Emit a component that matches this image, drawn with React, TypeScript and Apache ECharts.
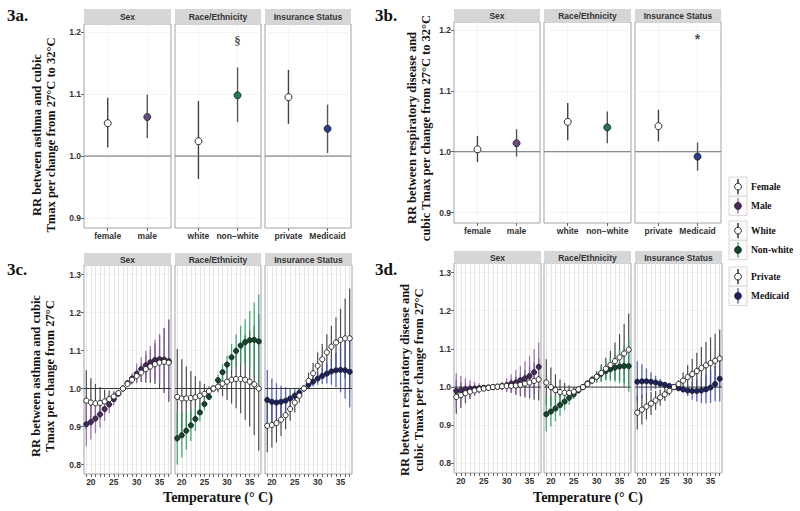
import React, { useEffect, useRef } from "react";
import * as echarts from "echarts";

// ---------- categories / ticks ----------
const TEMPS = [19, 20, 21, 22, 23, 24, 25, 26, 27, 28, 29, 30, 31, 32, 33, 34, 35, 36, 37];
const TEMP_LABELS = [20, 25, 30, 35];
const TOP_POS = [1, 2];
const Y_TICKS_TOP = [0.9, 1.0, 1.1, 1.2];
const Y_TICKS_BOTTOM = [0.8, 0.9, 1.0, 1.1, 1.2, 1.3];
const FACETS = ["Sex", "Race/Ethnicity", "Insurance Status"];
const SEX_CATS = ["female", "male"];
const RACE_CATS = ["white", "non\u2212white"];
const INS_CATS = ["private", "Medicaid"];
const LEGEND_LABELS = [["Female", "Male"], ["White", "Non-white"], ["Private", "Medicaid"]];
const FIG_LABELS = ["3a.", "3b.", "3c.", "3d."];
const Y_TITLES = [
  "RR between asthma and cubic\nTmax per change from 27\u00B0C to 32\u00B0C",
  "RR between respiratory disease and\ncubic Tmax per change from 27\u00B0C to 32\u00B0C",
  "RR between asthma and cubic\nTmax per change from 27\u00B0C",
  "RR between respiratory disease and\ncubic Tmax per change from 27\u00B0C",
];
const X_TITLE = "Temperature (\u00B0 C)";

// ---------- 3a (asthma, 27->32) ----------
const aSexEst = [1.053, 1.063];
const aSexLo = [1.014, 1.029];
const aSexHi = [1.094, 1.099];
const aRaceEst = [1.024, 1.098];
const aRaceLo = [0.963, 1.055];
const aRaceHi = [1.089, 1.143];
const aInsEst = [1.095, 1.044];
const aInsLo = [1.052, 1.005];
const aInsHi = [1.139, 1.083];
const aMark = { panel: 1, x: 2, y: 1.187, text: "\u00A7" };

// ---------- 3b (respiratory, 27->32) ----------
const bSexEst = [1.004, 1.014];
const bSexLo = [0.983, 0.992];
const bSexHi = [1.026, 1.037];
const bRaceEst = [1.049, 1.04];
const bRaceLo = [1.019, 1.014];
const bRaceHi = [1.08, 1.066];
const bInsEst = [1.042, 0.992];
const bInsLo = [1.017, 0.969];
const bInsHi = [1.069, 1.015];
const bMark = { panel: 2, x: 2, y: 1.185, text: "*" };

// ---------- 3c (asthma, by temperature) ----------
const cFemEst = [0.968, 0.963, 0.961, 0.962, 0.966, 0.972, 0.979, 0.988, 1.0, 1.012, 1.023, 1.033, 1.042, 1.051, 1.058, 1.064, 1.068, 1.07, 1.068];
const cFemLo = [0.893, 0.902, 0.912, 0.921, 0.935, 0.95, 0.965, 0.981, 1.0, 1.006, 1.011, 1.016, 1.017, 1.015, 1.015, 1.012, 1.001, 0.988, 0.965];
const cFemHi = [1.048, 1.027, 1.012, 1.004, 0.997, 0.995, 0.993, 0.995, 1.0, 1.018, 1.035, 1.051, 1.068, 1.088, 1.103, 1.119, 1.139, 1.159, 1.18];
const cMaleEst = [0.906, 0.912, 0.921, 0.932, 0.946, 0.958, 0.972, 0.986, 1.0, 1.014, 1.026, 1.039, 1.051, 1.061, 1.069, 1.075, 1.077, 1.076, 1.072];
const cMaleLo = [0.848, 0.866, 0.882, 0.897, 0.915, 0.935, 0.955, 0.978, 1.0, 1.008, 1.012, 1.014, 1.02, 1.025, 1.028, 1.024, 1.013, 0.993, 0.967];
const cMaleHi = [0.967, 0.96, 0.962, 0.968, 0.978, 0.982, 0.99, 0.994, 1.0, 1.02, 1.04, 1.066, 1.082, 1.099, 1.112, 1.128, 1.143, 1.16, 1.182];
const cWhiteEst = [0.978, 0.974, 0.974, 0.975, 0.977, 0.981, 0.986, 0.993, 1.0, 1.005, 1.013, 1.018, 1.023, 1.025, 1.025, 1.023, 1.018, 1.011, 1.0];
const cWhiteLo = [0.858, 0.874, 0.892, 0.906, 0.924, 0.943, 0.961, 0.981, 1.0, 0.99, 0.98, 0.97, 0.96, 0.948, 0.935, 0.918, 0.9, 0.877, 0.836];
const cWhiteHi = [1.104, 1.077, 1.058, 1.046, 1.032, 1.02, 1.012, 1.005, 1.0, 1.021, 1.047, 1.068, 1.09, 1.108, 1.12, 1.14, 1.152, 1.166, 1.196];
const cNonwEst = [0.869, 0.877, 0.889, 0.903, 0.92, 0.937, 0.959, 0.978, 1.0, 1.022, 1.043, 1.063, 1.082, 1.099, 1.113, 1.122, 1.127, 1.128, 1.124];
const cNonwLo = [0.8, 0.818, 0.839, 0.862, 0.888, 0.913, 0.943, 0.97, 1.0, 1.008, 1.022, 1.04, 1.05, 1.058, 1.063, 1.064, 1.052, 1.03, 1.0];
const cNonwHi = [0.938, 0.936, 0.939, 0.944, 0.952, 0.961, 0.975, 0.986, 1.0, 1.037, 1.064, 1.086, 1.117, 1.143, 1.165, 1.182, 1.204, 1.226, 1.248];
const cPrivEst = [0.902, 0.904, 0.909, 0.918, 0.93, 0.946, 0.963, 0.981, 1.0, 1.02, 1.04, 1.06, 1.077, 1.095, 1.11, 1.121, 1.128, 1.132, 1.132];
const cPrivLo = [0.832, 0.845, 0.858, 0.875, 0.893, 0.915, 0.937, 0.963, 1.0, 0.998, 1.012, 1.025, 1.037, 1.047, 1.055, 1.055, 1.046, 1.027, 1.0];
const cPrivHi = [0.977, 0.966, 0.962, 0.962, 0.968, 0.977, 0.99, 1.0, 1.0, 1.042, 1.068, 1.095, 1.117, 1.143, 1.165, 1.187, 1.21, 1.237, 1.263];
const cMedEst = [0.97, 0.965, 0.963, 0.965, 0.968, 0.974, 0.981, 0.989, 1.0, 1.01, 1.018, 1.026, 1.033, 1.039, 1.045, 1.048, 1.049, 1.048, 1.044];
const cMedLo = [0.891, 0.904, 0.912, 0.923, 0.933, 0.949, 0.964, 0.98, 1.0, 1.0, 1.005, 1.01, 1.012, 1.013, 1.01, 1.003, 0.99, 0.974, 0.95];
const cMedHi = [1.049, 1.026, 1.014, 1.007, 1.003, 0.999, 0.998, 0.998, 1.0, 1.02, 1.031, 1.042, 1.054, 1.066, 1.08, 1.094, 1.11, 1.125, 1.14];

// ---------- 3d (respiratory, by temperature) ----------
const dFemEst = [0.974, 0.979, 0.984, 0.988, 0.991, 0.994, 0.996, 0.998, 1.0, 1.001, 1.002, 1.003, 1.003, 1.004, 1.006, 1.009, 1.012, 1.016, 1.02];
const dFemLo = [0.93, 0.945, 0.958, 0.969, 0.978, 0.986, 0.992, 0.996, 1.0, 0.998, 0.994, 0.99, 0.985, 0.98, 0.976, 0.973, 0.97, 0.967, 0.965];
const dFemHi = [1.018, 1.013, 1.01, 1.007, 1.004, 1.002, 1.0, 1.0, 1.0, 1.004, 1.01, 1.016, 1.021, 1.028, 1.036, 1.045, 1.054, 1.065, 1.075];
const dMaleEst = [0.99, 0.992, 0.994, 0.995, 0.996, 0.997, 0.998, 0.999, 1.0, 1.001, 1.003, 1.005, 1.009, 1.012, 1.018, 1.023, 1.029, 1.039, 1.053];
const dMaleLo = [0.944, 0.955, 0.965, 0.972, 0.978, 0.984, 0.991, 0.995, 1.0, 0.997, 0.992, 0.987, 0.985, 0.98, 0.981, 0.978, 0.976, 0.979, 0.989];
const dMaleHi = [1.036, 1.029, 1.023, 1.018, 1.014, 1.01, 1.005, 1.003, 1.0, 1.005, 1.014, 1.023, 1.033, 1.044, 1.055, 1.068, 1.082, 1.099, 1.117];
const dWhiteEst = [1.012, 1.0, 0.992, 0.987, 0.985, 0.985, 0.988, 0.994, 1.0, 1.008, 1.017, 1.027, 1.037, 1.048, 1.058, 1.068, 1.078, 1.088, 1.098];
const dWhiteLo = [0.951, 0.949, 0.951, 0.954, 0.959, 0.965, 0.976, 0.988, 1.0, 1.005, 1.009, 1.012, 1.014, 1.019, 1.021, 1.019, 1.017, 1.011, 1.003];
const dWhiteHi = [1.073, 1.051, 1.033, 1.02, 1.011, 1.005, 1.0, 1.0, 1.0, 1.011, 1.025, 1.042, 1.06, 1.077, 1.095, 1.117, 1.139, 1.165, 1.193];
const dNonwEst = [0.929, 0.936, 0.944, 0.953, 0.962, 0.972, 0.981, 0.991, 1.0, 1.01, 1.019, 1.027, 1.035, 1.042, 1.047, 1.051, 1.054, 1.055, 1.055];
const dNonwLo = [0.884, 0.897, 0.911, 0.925, 0.94, 0.954, 0.969, 0.985, 1.0, 1.004, 1.008, 1.012, 1.015, 1.017, 1.016, 1.014, 1.01, 1.0, 0.988];
const dNonwHi = [0.976, 0.977, 0.978, 0.981, 0.985, 0.99, 0.994, 0.997, 1.0, 1.016, 1.03, 1.042, 1.055, 1.067, 1.078, 1.088, 1.098, 1.11, 1.125];
const dPrivEst = [0.933, 0.941, 0.949, 0.957, 0.965, 0.973, 0.981, 0.99, 1.0, 1.008, 1.017, 1.026, 1.034, 1.042, 1.05, 1.057, 1.063, 1.069, 1.075];
const dPrivLo = [0.889, 0.902, 0.915, 0.927, 0.94, 0.952, 0.964, 0.978, 1.0, 0.998, 0.996, 0.995, 0.994, 0.994, 0.995, 0.996, 0.996, 0.998, 1.0];
const dPrivHi = [0.978, 0.98, 0.983, 0.987, 0.99, 0.994, 0.998, 1.002, 1.0, 1.018, 1.038, 1.057, 1.074, 1.09, 1.105, 1.118, 1.13, 1.14, 1.151];
const dMedEst = [1.014, 1.015, 1.015, 1.014, 1.012, 1.009, 1.006, 1.003, 1.0, 0.997, 0.994, 0.991, 0.99, 0.99, 0.991, 0.994, 0.999, 1.008, 1.022];
const dMedLo = [0.962, 0.971, 0.982, 0.99, 0.995, 0.998, 0.999, 1.0, 1.0, 0.994, 0.985, 0.976, 0.967, 0.962, 0.958, 0.957, 0.958, 0.963, 0.962];
const dMedHi = [1.068, 1.06, 1.049, 1.039, 1.03, 1.021, 1.013, 1.006, 1.0, 1.0, 1.004, 1.008, 1.014, 1.019, 1.026, 1.033, 1.042, 1.055, 1.085];

// ---------- styling ----------
const SANS = "'Liberation Sans', Arial, Helvetica, sans-serif";
const SERIF = "'Liberation Serif', 'Times New Roman', serif";
const PALETTE = [
  { topFill: "#6b4a82", fill: "#4a2862", bar: "#8f62ad" },
  { topFill: "#1f7a4d", fill: "#0f4a2c", bar: "#2aa060" },
  { topFill: "#2c3a8e", fill: "#1b2162", bar: "#4350aa" },
];

type Group = { est: number[]; lo: number[]; hi: number[] };
type Fig = {
  kind: "top" | "bottom";
  lefts: number[];
  widths: number[];
  top: number;
  height: number;
  stripTop: number;
  stripH: number;
  yMin: number;
  yMax: number;
  panels: [Group, Group][];
  cats?: string[][];
  mark?: { panel: number; x: number; y: number; text: string };
  label: { x: number; y: number };
  ytitle: { x: number; y: number };
  xtitle?: { x: number; y: number };
};

const FIGS: Fig[] = [
  {
    kind: "top", lefts: [84, 175, 265], widths: [87, 86, 86], top: 24, height: 204, stripTop: 9, stripH: 15,
    yMin: 0.884, yMax: 1.213,
    panels: [
      [{ est: [aSexEst[0]], lo: [aSexLo[0]], hi: [aSexHi[0]] }, { est: [aSexEst[1]], lo: [aSexLo[1]], hi: [aSexHi[1]] }],
      [{ est: [aRaceEst[0]], lo: [aRaceLo[0]], hi: [aRaceHi[0]] }, { est: [aRaceEst[1]], lo: [aRaceLo[1]], hi: [aRaceHi[1]] }],
      [{ est: [aInsEst[0]], lo: [aInsLo[0]], hi: [aInsHi[0]] }, { est: [aInsEst[1]], lo: [aInsLo[1]], hi: [aInsHi[1]] }],
    ],
    cats: [SEX_CATS, RACE_CATS, INS_CATS],
    mark: aMark,
    label: { x: 7, y: 15 },
    ytitle: { x: 44, y: 135 },
  },
  {
    kind: "top", lefts: [454, 544, 635], widths: [86, 87, 86], top: 22, height: 201, stripTop: 9, stripH: 13,
    yMin: 0.883, yMax: 1.213,
    panels: [
      [{ est: [bSexEst[0]], lo: [bSexLo[0]], hi: [bSexHi[0]] }, { est: [bSexEst[1]], lo: [bSexLo[1]], hi: [bSexHi[1]] }],
      [{ est: [bRaceEst[0]], lo: [bRaceLo[0]], hi: [bRaceHi[0]] }, { est: [bRaceEst[1]], lo: [bRaceLo[1]], hi: [bRaceHi[1]] }],
      [{ est: [bInsEst[0]], lo: [bInsLo[0]], hi: [bInsHi[0]] }, { est: [bInsEst[1]], lo: [bInsLo[1]], hi: [bInsHi[1]] }],
    ],
    cats: [SEX_CATS, RACE_CATS, INS_CATS],
    mark: bMark,
    label: { x: 375, y: 15 },
    ytitle: { x: 419, y: 128 },
  },
  {
    kind: "bottom", lefts: [84, 175, 265], widths: [87, 86, 87], top: 265, height: 209, stripTop: 253, stripH: 12,
    yMin: 0.775, yMax: 1.325,
    panels: [
      [{ est: cFemEst, lo: cFemLo, hi: cFemHi }, { est: cMaleEst, lo: cMaleLo, hi: cMaleHi }],
      [{ est: cWhiteEst, lo: cWhiteLo, hi: cWhiteHi }, { est: cNonwEst, lo: cNonwLo, hi: cNonwHi }],
      [{ est: cPrivEst, lo: cPrivLo, hi: cPrivHi }, { est: cMedEst, lo: cMedLo, hi: cMedHi }],
    ],
    label: { x: 7, y: 269 },
    ytitle: { x: 43, y: 376 },
    xtitle: { x: 218, y: 497 },
  },
  {
    kind: "bottom", lefts: [454, 544, 635], widths: [87, 87, 87], top: 263, height: 210, stripTop: 251, stripH: 12,
    yMin: 0.775, yMax: 1.325,
    panels: [
      [{ est: dFemEst, lo: dFemLo, hi: dFemHi }, { est: dMaleEst, lo: dMaleLo, hi: dMaleHi }],
      [{ est: dWhiteEst, lo: dWhiteLo, hi: dWhiteHi }, { est: dNonwEst, lo: dNonwLo, hi: dNonwHi }],
      [{ est: dPrivEst, lo: dPrivLo, hi: dPrivHi }, { est: dMedEst, lo: dMedLo, hi: dMedHi }],
    ],
    label: { x: 375, y: 269 },
    ytitle: { x: 412, y: 380 },
    xtitle: { x: 588, y: 497 },
  },
];

function errorBarSeries(idx: number, data: number[][], color: string, width: number, opacity: number, z: number) {
  return {
    type: "custom",
    xAxisIndex: idx,
    yAxisIndex: idx,
    silent: true,
    z,
    encode: { x: 0, y: [1, 2] },
    data,
    renderItem: (_p: any, api: any) => {
      const x = api.value(0);
      const a = api.coord([x, api.value(1)]);
      const b = api.coord([x, api.value(2)]);
      return {
        type: "line",
        shape: { x1: a[0], y1: a[1], x2: b[0], y2: b[1] },
        style: { stroke: color, lineWidth: width, opacity },
      };
    },
  };
}

function buildOption() {
  const grid: any[] = [];
  const xAxis: any[] = [];
  const yAxis: any[] = [];
  const series: any[] = [];
  const graphic: any[] = [];
  const labelFont = { fontFamily: SANS, fontWeight: "bold", fontSize: 8.5, color: "#333" };

  FIGS.forEach((fig) => {
    const isTop = fig.kind === "top";
    fig.panels.forEach((pair, p) => {
      const idx = grid.length;
      const left = fig.lefts[p];
      const width = fig.widths[p];
      grid.push({
        left, top: fig.top, width, height: fig.height,
        show: true, borderColor: "#a3a3a3", borderWidth: 1, backgroundColor: "#ffffff",
      });
      const xs = isTop ? TOP_POS : TEMPS;
      const xMin = isTop ? 0.4 : 18.5;
      const xMax = isTop ? 2.6 : 37.5;
      xAxis.push({
        type: "value", gridIndex: idx, min: xMin, max: xMax,
        axisLine: { show: false },
        axisTick: { show: true, customValues: xs, length: 3, lineStyle: { color: "#444", width: 0.8 } },
        axisLabel: {
          ...labelFont,
          margin: 3,
          customValues: isTop ? TOP_POS : TEMP_LABELS,
          formatter: (v: number) => (isTop ? fig.cats![p][Math.round(v) - 1] : String(v)),
        },
        splitLine: { show: true, lineStyle: { color: isTop ? "#eeeeee" : "#dedede", width: isTop ? 0.6 : 0.8 } },
      });
      const yt = isTop ? Y_TICKS_TOP : Y_TICKS_BOTTOM;
      yAxis.push({
        type: "value", gridIndex: idx, min: fig.yMin, max: fig.yMax,
        axisLine: { show: false },
        axisTick: { show: p === 0, customValues: yt, length: 3, lineStyle: { color: "#444", width: 0.8 } },
        axisLabel: { show: p === 0, ...labelFont, margin: 3, customValues: yt, formatter: (v: number) => v.toFixed(1) },
        splitLine: { show: true, lineStyle: { color: "#eeeeee", width: 0.6 } },
      });

      const pal = PALETTE[p];
      const [g0, g1] = pair;
      const xsFor = (gi: number) => (isTop ? [TOP_POS[gi]] : TEMPS);
      const barData = (g: Group, gi: number) => xsFor(gi).map((x, k) => [x, g.lo[k], g.hi[k]]);
      const ptData = (g: Group, gi: number) => xsFor(gi).map((x, k) => [x, g.est[k]]);

      if (isTop) {
        series.push(errorBarSeries(idx, barData(g0, 0), "#2e2e2e", 1.4, 0.9, 2));
        series.push(errorBarSeries(idx, barData(g1, 1), "#3a3a3a", 1.4, 0.85, 2));
      } else {
        series.push(errorBarSeries(idx, barData(g0, 0), "#1a1a1a", 1.2, 0.75, 2));
        series.push(errorBarSeries(idx, barData(g1, 1), pal.bar, 1.3, 0.85, 2));
      }
      // reference line at RR = 1
      series.push({
        type: "line", xAxisIndex: idx, yAxisIndex: idx, silent: true, z: 3,
        data: [[xMin, 1], [xMax, 1]], symbol: "none",
        lineStyle: { color: isTop ? "#6a6a6a" : "#3a3a3a", width: 1 },
      });
      const size = isTop ? 7 : 5.2;
      series.push({
        type: "scatter", xAxisIndex: idx, yAxisIndex: idx, silent: true, z: 4,
        data: ptData(g1, 1), symbol: "circle", symbolSize: size,
        itemStyle: { color: isTop ? pal.topFill : pal.fill, borderColor: "#1a1a1a", borderWidth: 0.8, opacity: 1 },
      });
      series.push({
        type: "scatter", xAxisIndex: idx, yAxisIndex: idx, silent: true, z: 5,
        data: ptData(g0, 0), symbol: "circle", symbolSize: size,
        itemStyle: { color: "#ffffff", borderColor: "#1a1a1a", borderWidth: 0.9, opacity: 1 },
      });
      if (fig.mark && fig.mark.panel === p) {
        series.push({
          type: "scatter", xAxisIndex: idx, yAxisIndex: idx, silent: true, z: 6,
          data: [[fig.mark.x, fig.mark.y]], symbolSize: 0,
          label: {
            show: true, position: "inside", formatter: fig.mark.text,
            fontFamily: fig.mark.text === "*" ? SANS : SERIF, fontWeight: "bold",
            fontSize: fig.mark.text === "*" ? 14 : 13, color: "#222",
          },
        });
      }

      // strip header
      graphic.push({
        type: "rect", silent: true,
        shape: { x: left, y: fig.stripTop, width, height: fig.stripH },
        style: { fill: "#d6d6d6", stroke: "none" },
      });
      graphic.push({
        type: "text", silent: true,
        x: left + width / 2, y: fig.stripTop + fig.stripH / 2 + 0.5,
        style: {
          text: FACETS[p], fill: "#333", font: `bold 8.5px ${SANS}`,
          textAlign: "center", textVerticalAlign: "middle",
        },
      });
    });
  });

  FIGS.forEach((fig, f) => {
    graphic.push({
      type: "text", silent: true, x: fig.label.x, y: fig.label.y,
      style: { text: FIG_LABELS[f], fill: "#111", font: `bold 17px ${SERIF}`, textAlign: "left", textVerticalAlign: "middle" },
    });
    graphic.push({
      type: "text", silent: true, x: fig.ytitle.x, y: fig.ytitle.y, rotation: Math.PI / 2,
      style: {
        text: Y_TITLES[f], fill: "#111", font: `bold 12.5px ${SERIF}`, lineHeight: 14.5,
        textAlign: "center", textVerticalAlign: "middle",
      },
    });
    if (fig.xtitle) {
      graphic.push({
        type: "text", silent: true, x: fig.xtitle.x, y: fig.xtitle.y,
        style: { text: X_TITLE, fill: "#111", font: `bold 14px ${SERIF}`, textAlign: "center", textVerticalAlign: "middle" },
      });
    }
  });

  // legend
  const keyX = 729;
  const keyW = 18;
  const keyH = 19.3;
  const groupTops = [177, 221, 267];
  LEGEND_LABELS.forEach((pair, gi) => {
    pair.forEach((name, k) => {
      const y = groupTops[gi] + k * keyH;
      const cx = keyX + keyW / 2;
      const cy = y + keyH / 2;
      const open = k === 0;
      graphic.push({
        type: "rect", silent: true,
        shape: { x: keyX, y, width: keyW, height: keyH },
        style: { fill: "#fbfbfb", stroke: "#cfcfcf", lineWidth: 0.8 },
      });
      graphic.push({
        type: "line", silent: true,
        shape: { x1: cx, y1: y + 2, x2: cx, y2: y + keyH - 2 },
        style: { stroke: open ? "#1a1a1a" : PALETTE[gi].bar, lineWidth: 1.3 },
      });
      graphic.push({
        type: "circle", silent: true,
        shape: { cx, cy, r: 3.4 },
        style: { fill: open ? "#ffffff" : PALETTE[gi].fill, stroke: "#1a1a1a", lineWidth: 0.9 },
      });
      graphic.push({
        type: "text", silent: true, x: keyX + keyW + 4, y: cy,
        style: { text: name, fill: "#111", font: `bold 9.5px ${SERIF}`, textAlign: "left", textVerticalAlign: "middle" },
      });
    });
  });

  return {
    animation: false,
    backgroundColor: "#ffffff",
    grid,
    xAxis,
    yAxis,
    series,
    graphic: { elements: graphic },
  };
}

export default function App() {
  const ref = useRef<HTMLDivElement>(null);
  useEffect(() => {
    if (!ref.current) return;
    const chart = echarts.init(ref.current, null, { renderer: "svg" });
    chart.setOption(buildOption() as any);
    return () => chart.dispose();
  }, []);
  return (
    <div
      ref={ref}
      style={{ position: "fixed", left: 0, top: 0, width: 800, height: 511, background: "#ffffff" }}
    />
  );
}
